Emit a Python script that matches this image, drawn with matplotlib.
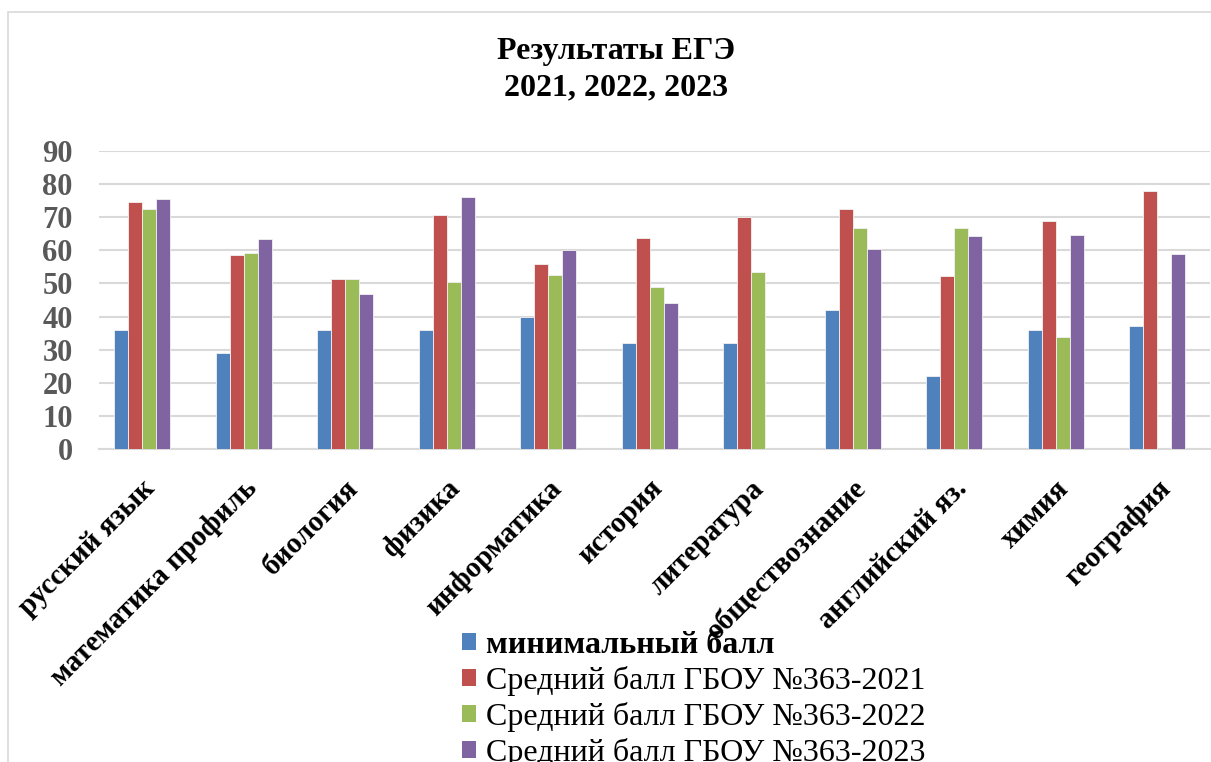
import numpy as np
import matplotlib
matplotlib.use('Agg')
import matplotlib.pyplot as plt
import matplotlib.transforms as mtransforms
from matplotlib.patches import Patch, Rectangle

plt.rcParams['font.family'] = ['Liberation Serif', 'DejaVu Serif']

# Data
subjects = ['русский язык', 'математика профиль', 'биология', 'физика',
            'информатика', 'история', 'литература', 'обществознание',
            'английский яз.', 'химия', 'география']
min_ball = [36, 29, 36, 36, 40, 32, 32, 42, 22, 36, 37]
avg_2021 = [74.6, 58.5, 51.4, 70.8, 55.9, 63.6, 70.2, 72.6, 52.3, 69.0, 77.9]
avg_2022 = [72.6, 59.3, 51.2, 50.3, 52.4, 49.0, 53.4, 66.7, 66.6, 33.8, np.nan]
avg_2023 = [75.5, 63.3, 46.8, 76.2, 60.0, 44.1, np.nan, 60.4, 64.4, 64.6, 58.8]
yticks = [0, 10, 20, 30, 40, 50, 60, 70, 80, 90]

series = [
    ('минимальный балл', min_ball, '#4f81bd'),
    ('Средний балл ГБОУ №363-2021', avg_2021, '#c0504d'),
    ('Средний балл ГБОУ №363-2022', avg_2022, '#9bbb59'),
    ('Средний балл ГБОУ №363-2023', avg_2023, '#8064a2'),
]

fig = plt.figure(figsize=(12.11, 7.62), dpi=100)
ax = fig.add_axes([99 / 1211, 1 - 449 / 762, 1111 / 1211, 298 / 762])

# outer chart frame
fig.patches.append(Rectangle((8 / 1211, -0.1), 1.2, 1 - 12 / 762 + 0.1,
                             transform=fig.transFigure, fill=False,
                             edgecolor='#d9d9d9', linewidth=1.2))

x = np.arange(len(subjects))
w = 0.138
for i, (name, vals, col) in enumerate(series):
    ax.bar(x + (i - 1.5) * w, vals, width=w, color=col,
           edgecolor='#f2f2f2', linewidth=0.6, zorder=3)

ax.set_xlim(-0.425, 10.52)
ax.set_ylim(0, 90)
ax.set_yticks(yticks)
ax.yaxis.grid(True, color='#d9d9d9', linewidth=1.5, zorder=0)
for s in ['top', 'right', 'left']:
    ax.spines[s].set_visible(False)
ax.spines['bottom'].set_color('#d9d9d9')
ax.spines['bottom'].set_linewidth(1.5)
ax.tick_params(axis='y', length=0, pad=19, labelsize=22, labelcolor='#595959')
ax.tick_params(axis='x', length=0, pad=24)
for lab in ax.get_yticklabels():
    lab.set_fontweight('bold')

ax.set_xticks(x)
ax.set_xticklabels(subjects, rotation=45, ha='right', va='center',
                   rotation_mode='anchor', fontsize=21, fontweight='bold')
offset = mtransforms.ScaledTranslation(9 / 100, -2 / 100, fig.dpi_scale_trans)
for lab in ax.get_xticklabels():
    lab.set_transform(lab.get_transform() + offset)

fig.text(0.509, 1 - 70 / 762, 'Результаты ЕГЭ\n2021, 2022, 2023',
         ha='center', va='center', fontsize=23, fontweight='bold',
         linespacing=1.35)

handles = [Patch(facecolor=c, edgecolor='none') for _, _, c in series]
leg = fig.legend(handles, [n for n, _, _ in series], loc='upper left',
                 bbox_to_anchor=(446 / 1211, 1 - 615 / 762), frameon=False,
                 fontsize=23, handlelength=0.45, handleheight=0.45,
                 handletextpad=0.3, labelspacing=0.19, borderpad=0)
leg.get_texts()[0].set_fontweight('bold')

plt.savefig('out.png', dpi=100)
